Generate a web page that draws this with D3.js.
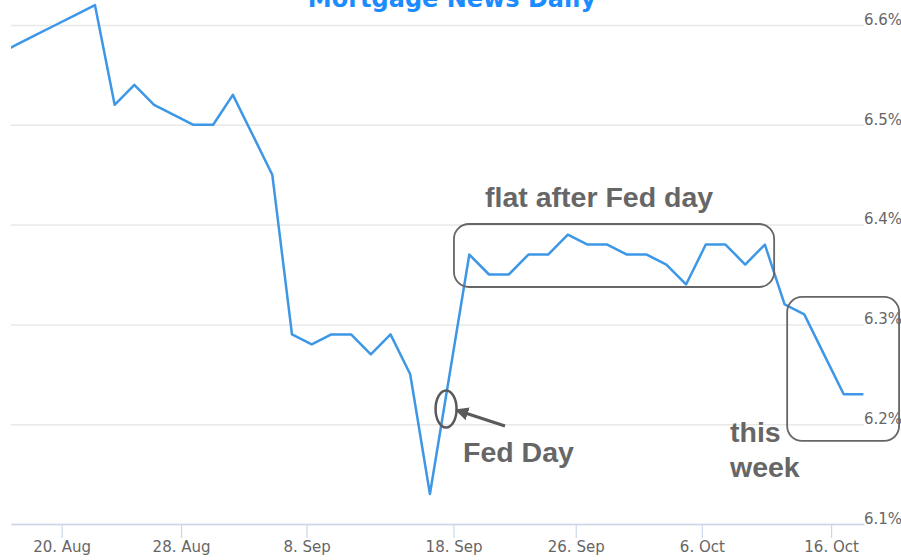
<!DOCTYPE html>
<html>
<head>
<meta charset="utf-8">
<script src="https://cdn.jsdelivr.net/npm/d3@7/dist/d3.min.js"></script>
<style>
  body { margin: 0; background: #fff; }
  .canvas svg { display: block; }
</style>
</head>
<body>
<div class="canvas"></div>
<script>
// daily rate, one value per trading day (index 0 = the august high)
const firstIndex = -5;
const rates = [
  6.57, 6.58, 6.59, 6.60, 6.61,
  6.62, 6.52, 6.54, 6.52, 6.51, 6.50, 6.50, 6.53, 6.49, 6.45,
  6.29, 6.28, 6.29, 6.29, 6.27, 6.29, 6.25, 6.13, 6.25,
  6.37, 6.35, 6.35, 6.37, 6.37, 6.39, 6.38, 6.38, 6.37, 6.37,
  6.36, 6.34, 6.38, 6.38, 6.36, 6.38,
  6.32, 6.31, 6.27, 6.23, 6.23
];

// date ticks sit between trading days (ordinal axis)
const tickLabels = ['20. Aug', '28. Aug', '8. Sep', '18. Sep', '26. Sep', '6. Oct', '16. Oct'];
const tickIndex = [-1.69, 4.37, 10.74, 18.2, 24.4, 30.8, 37.36];
const rateTicks = [6.1, 6.2, 6.3, 6.4, 6.5, 6.6];

// annotations, in data units (trading day index, rate)
const noteTexts = ['flat after Fed day', 'Fed Day', 'this', 'week'];
const noteAt = [[19.8, 6.418], [18.68, 6.162], [32.23, 6.182], [32.23, 6.147]];
const boxes = [[18.22, 34.47, 6.4006, 6.3375], [35.13, 40.81, 6.3275, 6.1832]];
const fedDay = [17.82, 6.2152];
const arrow = [[20.81, 6.1982], [18.33, 6.2142]];

const W = 901, H = 560;
const plot = { left: 11, right: 864, top: 25, bottom: 524 };
const grey = '#666666';
const labelFont = '"DejaVu Sans", sans-serif';

const svg = d3.select('.canvas')
  .append('svg')
  .attr('width', W)
  .attr('height', H)
  .style('font-family', labelFont);

const x = d3.scaleLinear()
  .domain([-4.26, 39.03])
  .range([plot.left, plot.right]);

const y = d3.scaleLinear()
  .domain([6.1, 6.6])
  .range([plot.bottom, plot.top]);

// horizontal grid + labels on the right
const yAxis = svg.append('g')
  .attr('transform', `translate(${plot.left},0)`)
  .call(d3.axisRight(y)
    .tickValues(rateTicks)
    .tickSize(plot.right - plot.left)
    .tickPadding(0)
    .tickFormat(d => d3.format('.1f')(d) + '%'));
yAxis.select('.domain').remove();
yAxis.selectAll('line').attr('stroke', '#e8e8e8').attr('stroke-width', 1.5);
yAxis.selectAll('text')
  .attr('dy', '-0.05em')
  .attr('fill', grey)
  .style('font-family', labelFont)
  .style('font-size', '15px');

// date axis
const xAxis = svg.append('g')
  .attr('transform', `translate(0,${plot.bottom})`)
  .call(d3.axisBottom(x)
    .tickValues(tickIndex)
    .tickFormat((d, i) => tickLabels[i])
    .tickSize(14)
    .tickSizeOuter(0)
    .tickPadding(3));
xAxis.select('.domain').attr('stroke', '#ccd6eb').attr('stroke-width', 1.5);
xAxis.selectAll('line').attr('stroke', '#ccd6eb').attr('stroke-width', 1.2);
xAxis.selectAll('text')
  .attr('fill', grey)
  .style('font-family', labelFont)
  .style('font-size', '15px');

// clip the line at the plot sides
svg.append('clipPath').attr('id', 'clip')
  .append('rect')
  .attr('x', plot.left).attr('y', 0)
  .attr('width', plot.right - plot.left + 1).attr('height', H);

const line = d3.line()
  .x((d, i) => x(firstIndex + i))
  .y(d => y(d));

svg.append('path')
  .datum(rates)
  .attr('clip-path', 'url(#clip)')
  .attr('fill', 'none')
  .attr('stroke', '#3d97e6')
  .attr('stroke-width', 2.5)
  .attr('stroke-linejoin', 'round')
  .attr('d', line);

// title, cut at the top of the picture as in the source
svg.append('text')
  .attr('x', 452)
  .attr('y', 7)
  .attr('text-anchor', 'middle')
  .attr('fill', '#1a8cff')
  .style('font-family', '"DejaVu Sans", sans-serif')
  .style('font-weight', 'bold')
  .style('font-size', '24px')
  .text('Mortgage News Daily');

// annotations
const notes = svg.append('g');

notes.selectAll('rect')
  .data(boxes)
  .enter()
  .append('rect')
    .attr('x', d => x(d[0]))
    .attr('y', d => y(d[2]))
    .attr('width', d => x(d[1]) - x(d[0]))
    .attr('height', d => y(d[3]) - y(d[2]))
    .attr('rx', 15)
    .attr('fill', 'none')
    .attr('stroke', grey)
    .attr('stroke-width', 1.8);

notes.append('ellipse')
  .attr('cx', x(fedDay[0]))
  .attr('cy', y(fedDay[1]))
  .attr('rx', 10.5)
  .attr('ry', 18.5)
  .attr('fill', 'none')
  .attr('stroke', '#5a5a5a')
  .attr('stroke-width', 2.5);

svg.append('defs').append('marker')
  .attr('id', 'head')
  .attr('viewBox', '0 0 10 10')
  .attr('refX', 9)
  .attr('refY', 5)
  .attr('markerWidth', 4.5)
  .attr('markerHeight', 4.5)
  .attr('orient', 'auto')
  .append('path')
    .attr('d', 'M0,0L10,5L0,10z')
    .attr('fill', '#5a5a5a');

notes.append('line')
  .attr('x1', x(arrow[0][0])).attr('y1', y(arrow[0][1]))
  .attr('x2', x(arrow[1][0])).attr('y2', y(arrow[1][1]))
  .attr('stroke', '#5a5a5a')
  .attr('stroke-width', 3)
  .attr('marker-end', 'url(#head)');

notes.selectAll('text')
  .data(noteTexts)
  .enter()
  .append('text')
    .attr('x', (d, i) => x(noteAt[i][0]))
    .attr('y', (d, i) => y(noteAt[i][1]))
    .attr('fill', grey)
    .style('font-family', '"Liberation Sans", Arial, sans-serif')
    .style('font-weight', 'bold')
    .style('font-size', '28.5px')
    .text(d => d);
</script>
</body>
</html>
